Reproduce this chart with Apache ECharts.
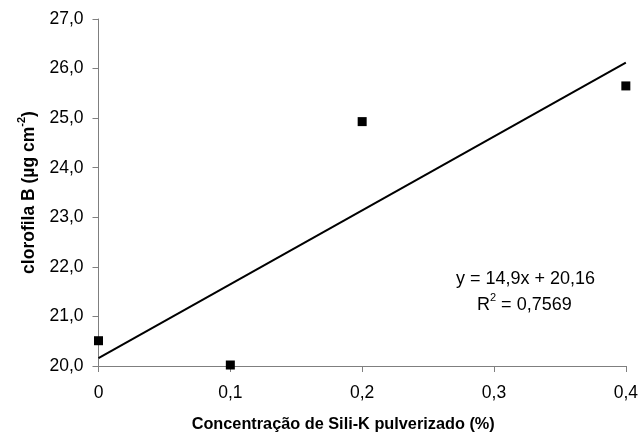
<!DOCTYPE html>
<html>
<head>
<meta charset="utf-8">
<script src="https://cdn.jsdelivr.net/npm/echarts@6/dist/echarts.min.js"></script>
<style>
html,body{margin:0;padding:0;background:#fff;}
#chart{width:641px;height:438px;}
</style>
</head>
<body>
<div id="chart"></div>
<script>
// Data
const concentrations = [0, 0.1, 0.2, 0.4];
const clorofilaB = [20.51, 20.02, 24.93, 25.65];
const slope = 14.9;
const intercept = 20.16;
const fitX = [0, 0.4];
const yTicks = [20, 21, 22, 23, 24, 25, 26, 27];
const xTicks = [0, 0.1, 0.2, 0.3, 0.4];

const points = concentrations.map((x, i) => [x, clorofilaB[i]]);
const fitLine = fitX.map(x => [x, slope * x + intercept]);

const font = 'Liberation Sans, Arial, sans-serif';
const axisColor = '#7f7f7f';

const chart = echarts.init(document.getElementById('chart'), null, {renderer: 'canvas'});
chart.setOption({
  backgroundColor: '#fff',
  animation: false,
  grid: {left: 98.5, right: 13.5, top: 19, bottom: 71.3},
  xAxis: {
    type: 'value',
    min: xTicks[0], max: xTicks[xTicks.length - 1], interval: 0.1,
    splitLine: {show: false},
    axisLine: {lineStyle: {color: axisColor, width: 1}},
    axisTick: {show: true, length: 6, lineStyle: {color: axisColor}},
    axisLabel: {
      color: '#000', fontFamily: font, fontSize: 17.5, margin: 18,
      formatter: v => v === 0 ? '0' : v.toFixed(1).replace('.', ',')
    },
    name: 'Concentração de Sili-K pulverizado (%)',
    nameLocation: 'middle',
    nameGap: 51,
    nameTextStyle: {color: '#000', fontFamily: font, fontSize: 16.3, fontWeight: 'bold', padding: [0, 38, 0, 0]}
  },
  yAxis: {
    type: 'value',
    min: yTicks[0], max: yTicks[yTicks.length - 1], interval: 1,
    splitLine: {show: false},
    axisLine: {show: true, lineStyle: {color: axisColor, width: 1}},
    axisTick: {show: true, length: 6, lineStyle: {color: axisColor}},
    axisLabel: {
      color: '#000', fontFamily: font, fontSize: 17.5, margin: 15,
      formatter: v => v.toFixed(1).replace('.', ',')
    },
    name: '{a|clorofila B (µg cm}{s|-2}{a|)}',
    nameLocation: 'middle',
    nameGap: 60,
    nameRotate: 90,
    nameTextStyle: {
      color: '#000', fontFamily: font, fontSize: 17.5, fontWeight: 'bold',
      rich: {
        a: {fontFamily: font, fontSize: 17.5, fontWeight: 'bold', color: '#000', lineHeight: 22, verticalAlign: 'bottom'},
        s: {fontFamily: font, fontSize: 11, fontWeight: 'bold', color: '#000', lineHeight: 22, verticalAlign: 'top'}
      }
    }
  },
  series: [
    {
      type: 'line',
      data: fitLine,
      symbol: 'none',
      lineStyle: {color: '#000', width: 2},
      z: 2
    },
    {
      type: 'scatter',
      data: points,
      symbol: 'rect',
      symbolSize: 9,
      itemStyle: {color: '#000', opacity: 1},
      z: 3
    }
  ],
  graphic: [
    {
      type: 'text',
      left: 456, top: 270,
      style: {text: 'y = 14,9x + 20,16', fontFamily: font, fontSize: 18, fill: '#000'}
    },
    {
      type: 'text',
      left: 477, top: 292,
      style: {
        text: '{a|R}{s|2}{a| = 0,7569}',
        rich: {
          a: {fontFamily: font, fontSize: 18, fill: '#000', lineHeight: 22, verticalAlign: 'bottom'},
          s: {fontFamily: font, fontSize: 11, fill: '#000', lineHeight: 22, verticalAlign: 'top'}
        }
      }
    }
  ]
});
</script>
</body>
</html>
